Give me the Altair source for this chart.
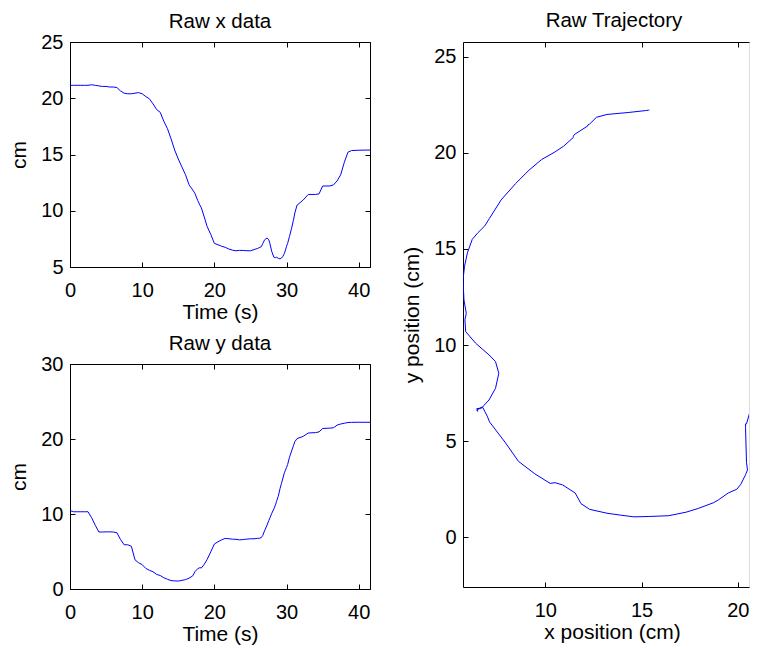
import altair as alt
import pandas as pd

# time (s), x position (cm), y position (cm)
t_s = [0.0, 0.5, 1.0, 1.5, 2.0, 2.5, 3.0, 3.5, 4.0, 4.5, 5.0, 5.5, 6.0, 6.5,
       7.0, 7.5, 8.0, 8.5, 9.0, 9.5, 10.0, 10.5, 11.0, 11.5, 12.0, 12.5, 13.0,
       13.5, 14.0, 14.5, 15.0, 15.5, 16.0, 16.5, 17.0, 17.3, 17.7, 18.0, 18.2,
       18.6, 19.0, 19.5, 20.0, 20.5, 21.0, 21.5, 22.0, 22.5, 23.0, 23.5, 24.0,
       24.5, 25.0, 25.5, 26.0, 26.3, 26.5, 26.7, 26.95, 27.3, 27.55, 27.7,
       27.95, 28.25, 28.5, 28.6, 28.85, 29.1, 29.3, 29.5, 29.7, 29.85, 30.0,
       30.15, 30.4, 30.7, 30.95, 31.15, 31.45, 32.3, 33.0, 34.0, 34.5, 35.0,
       36.0, 36.5, 37.0, 37.5, 38.0, 38.5, 39.0, 40.0, 41.6]
x_cm = [21.15, 21.15, 21.15, 21.15, 21.15, 21.15, 21.2, 21.15, 21.1, 21.05,
        21.05, 21.0, 21.0, 20.95, 20.65, 20.45, 20.4, 20.4, 20.45, 20.5, 20.4,
        20.15, 19.95, 19.5, 19.0, 18.75, 17.95, 17.3, 16.4, 15.4, 14.6, 13.9,
        13.2, 12.3, 11.85, 11.55, 10.9, 10.5, 10.25, 9.45, 8.6, 7.9, 7.1, 6.98,
        6.85, 6.75, 6.6, 6.5, 6.44, 6.48, 6.47, 6.45, 6.44, 6.55, 6.65, 6.75,
        6.8, 7.07, 7.41, 7.58, 7.41, 7.07, 6.38, 5.86, 5.82, 5.89, 5.77, 5.72,
        5.8, 5.95, 6.2, 6.5, 6.85, 7.1, 7.7, 8.45, 9.15, 9.8, 10.5, 10.95,
        11.45, 11.45, 11.5, 12.2, 12.2, 12.3, 12.65, 13.2, 14.3, 15.2, 15.35,
        15.38, 15.4]
y_cm = [10.45, 10.3, 10.3, 10.3, 10.3, 10.3, 9.5, 8.5, 7.6, 7.6, 7.62, 7.62,
        7.6, 7.5, 6.6, 5.9, 5.9, 5.7, 3.9, 3.5, 3.25, 2.75, 2.5, 2.3, 1.95,
        1.8, 1.5, 1.3, 1.12, 1.08, 1.06, 1.15, 1.25, 1.45, 1.75, 2.3, 2.72,
        2.84, 2.8, 3.3, 3.95, 4.95, 6.0, 6.3, 6.55, 6.75, 6.7, 6.65, 6.62,
        6.55, 6.6, 6.65, 6.7, 6.7, 6.75, 6.78, 6.85, 7.14, 7.75, 8.53, 9.14,
        9.49, 10.09, 10.7, 11.31, 11.65, 12.35, 13.4, 14.1, 14.8, 15.5, 15.85,
        16.2, 16.6, 17.55, 18.4, 19.1, 19.65, 20.05, 20.35, 20.8, 20.85, 20.95,
        21.4, 21.45, 21.5, 21.85, 22.0, 22.1, 22.2, 22.22, 22.23, 22.23]

time_ticks = [0, 10, 20, 30, 40]
rawx_ticks = [5, 10, 15, 20, 25]
rawy_ticks = [0, 10, 20, 30]
trajx_ticks = [10, 15, 20]
trajy_ticks = [0, 5, 10, 15, 20, 25]

df = pd.DataFrame({"t": t_s, "x": x_cm, "y": y_cm})

FONT = "Liberation Sans"
BLUE = "#0000ff"
INWARD = alt.ExprRef(expr="-5")


def ax(orient, values, title=None, labels=True, lp=18, tp=6, ticks=True,
       domain=True, **extra):
    kw = dict(orient=orient, values=values, tickSize=INWARD, tickColor="black",
              tickWidth=1, ticks=ticks, domain=domain, domainColor="black",
              domainWidth=1, grid=False, labels=labels,
              labelFont=FONT, labelFontSize=20, labelColor="black",
              labelPadding=lp, labelFlush=False, labelOverlap=False,
              titleFont=FONT, titleFontSize=21, titleFontWeight="normal",
              titleColor="black", titlePadding=tp, format="d")
    kw.update(extra)
    kw["title"] = title
    return alt.Axis(**kw)


def panel(xf, yf, xdom, ydom, xt, yt, xtitle, ytitle, title, w, h, toff,
          right_axis=True, tdx=0, xextra=None):
    xs = alt.Scale(domain=xdom, nice=False, zero=False)
    ys = alt.Scale(domain=ydom, nice=False, zero=False)
    main = alt.Chart(df).mark_line(color=BLUE, strokeWidth=1, clip=True).encode(
        x=alt.X(f"{xf}:Q", scale=xs,
                axis=ax("bottom", xt, xtitle, lp=18, tp=1, **(xextra or {}))),
        y=alt.Y(f"{yf}:Q", scale=ys, axis=ax("left", yt, ytitle, lp=12, tp=11)),
        order=alt.Order("t:Q"),
    )
    if right_axis:
        yax = ax("right", yt, None, labels=False)
    else:
        yax = ax("right", yt, None, labels=False, ticks=False, domain=False)
    mirror = alt.Chart(df).mark_line(opacity=0, clip=True).encode(
        x=alt.X(f"{xf}:Q", scale=xs, axis=ax("top", xt, None, labels=False)),
        y=alt.Y(f"{yf}:Q", scale=ys, axis=yax),
        order=alt.Order("t:Q"),
    )
    return alt.layer(main, mirror).resolve_axis(
        x="independent", y="independent"
    ).properties(
        width=w, height=h,
        title=alt.TitleParams(title, font=FONT, fontSize=20.5, fontWeight="normal",
                              color="black", offset=toff, dx=tdx),
    )


top = panel("t", "x", [0, 41.56], [5, 25], time_ticks, rawx_ticks,
            "Time (s)", "cm", "Raw x data", 300, 225, 0)
bottom = panel("t", "y", [0, 41.56], [0, 30], time_ticks, rawy_ticks,
               "Time (s)", "cm", "Raw y data", 300, 225, 0)
right = panel("x", "y", [5.72, 20.58], [-2.59, 25.77], trajx_ticks, trajy_ticks,
              "x position (cm)", "y position (cm)", "Raw Trajectory", 286, 545, 10,
              right_axis=False, tdx=8, xextra={"titleX": 149})

chart = alt.hconcat(
    alt.vconcat(top, bottom, spacing=10),
    right,
    spacing=30,
).properties(
    padding={"left": 0, "top": 2, "right": 0, "bottom": 0}
).configure_view(stroke=None).configure(background="white")

chart.save("out.html", embed_options={"renderer": "svg", "actions": False})
